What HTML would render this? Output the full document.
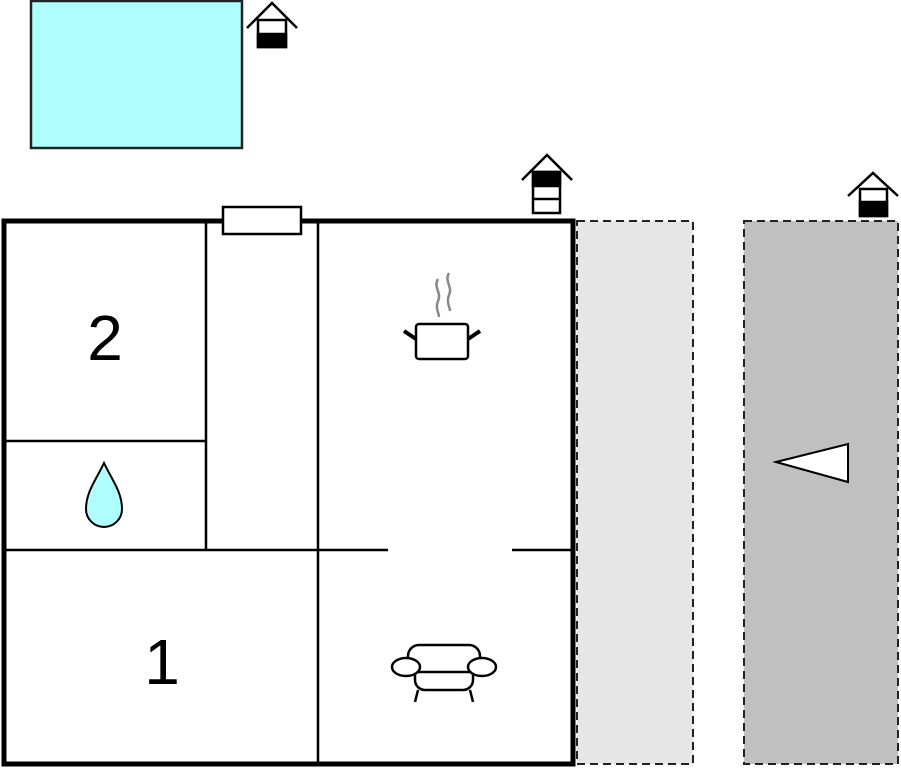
<!DOCTYPE html>
<html><head><style>body{margin:0;background:#fff}svg{display:block}</style></head><body>
<svg width="901" height="768" viewBox="0 0 901 768" xmlns="http://www.w3.org/2000/svg">
<rect x="31" y="1" width="211" height="147" fill="#b0ffff" stroke="#222" stroke-width="2.5"/>
<rect x="577" y="221" width="116" height="543" fill="#e6e6e6" stroke="#222" stroke-width="2" stroke-dasharray="8,5"/>
<rect x="744" y="221" width="154" height="543" fill="#c0c0c0" stroke="#222" stroke-width="2" stroke-dasharray="8,5"/>
<polygon points="776,462 848,444 848,482" fill="#fff" stroke="#000" stroke-width="2"/>
<g stroke="#000" fill="none">
<rect x="4" y="221" width="569" height="543" stroke-width="5"/>
<g stroke-width="2.5">
<line x1="206" y1="221" x2="206" y2="550"/>
<line x1="318" y1="221" x2="318" y2="764"/>
<line x1="4" y1="441" x2="206" y2="441"/>
<line x1="4" y1="550" x2="388" y2="550"/>
<line x1="512" y1="550" x2="573" y2="550"/>
</g>
<rect x="223" y="207" width="78" height="27" fill="#fff" stroke-width="2.5"/>
</g>
<g stroke="#000" stroke-width="2.5" fill="none">
<polyline points="247,28 272,3 297,28"/>
<rect x="258" y="20" width="28" height="27" fill="#fff"/>
<rect x="258" y="34" width="28" height="13" fill="#000"/>
<polyline points="522,180 547,155 572,180"/>
<rect x="533" y="172" width="27" height="41" fill="#fff"/>
<rect x="533" y="172" width="27" height="14" fill="#000"/>
<line x1="533" y1="199" x2="560" y2="199"/>
<polyline points="848,196 873,173 898,196"/>
<rect x="860" y="189" width="27" height="27" fill="#fff"/>
<rect x="860" y="202" width="27" height="14" fill="#000"/>
</g>
<path d="M104,463 C96,480 86,492 86,509 A18,18 0 0 0 122,509 C122,492 112,480 104,463 Z" fill="#b0ffff" stroke="#000" stroke-width="2"/>
<g fill="none">
<path d="M438,279 c-5,8 4,14 0,22 c-3,7 1,12 1,16 M449,273 c-5,8 4,14 0,22 c-3,7 1,12 1,16" stroke="#888" stroke-width="2.5"/>
<rect x="416" y="324" width="52" height="35" rx="3" fill="#fff" stroke="#000" stroke-width="2.5"/>
<line x1="404" y1="331" x2="416" y2="339" stroke="#000" stroke-width="4"/>
<line x1="480" y1="331" x2="468" y2="339" stroke="#000" stroke-width="4"/>
</g>
<g fill="#fff" stroke="#000" stroke-width="2.5">
<rect x="415" y="662" width="58" height="28" rx="10"/>
<rect x="408" y="645" width="72" height="27" rx="11"/>
<ellipse cx="406" cy="667" rx="14" ry="9"/>
<ellipse cx="482" cy="667" rx="14" ry="9"/>
<line x1="418" y1="690" x2="415" y2="702"/>
<line x1="470" y1="690" x2="473" y2="702"/>
</g>
<text x="105" y="360" font-family="Liberation Sans, sans-serif" font-size="64" text-anchor="middle">2</text>
<text x="162" y="684" font-family="Liberation Sans, sans-serif" font-size="64" text-anchor="middle">1</text>
</svg>
</body></html>
